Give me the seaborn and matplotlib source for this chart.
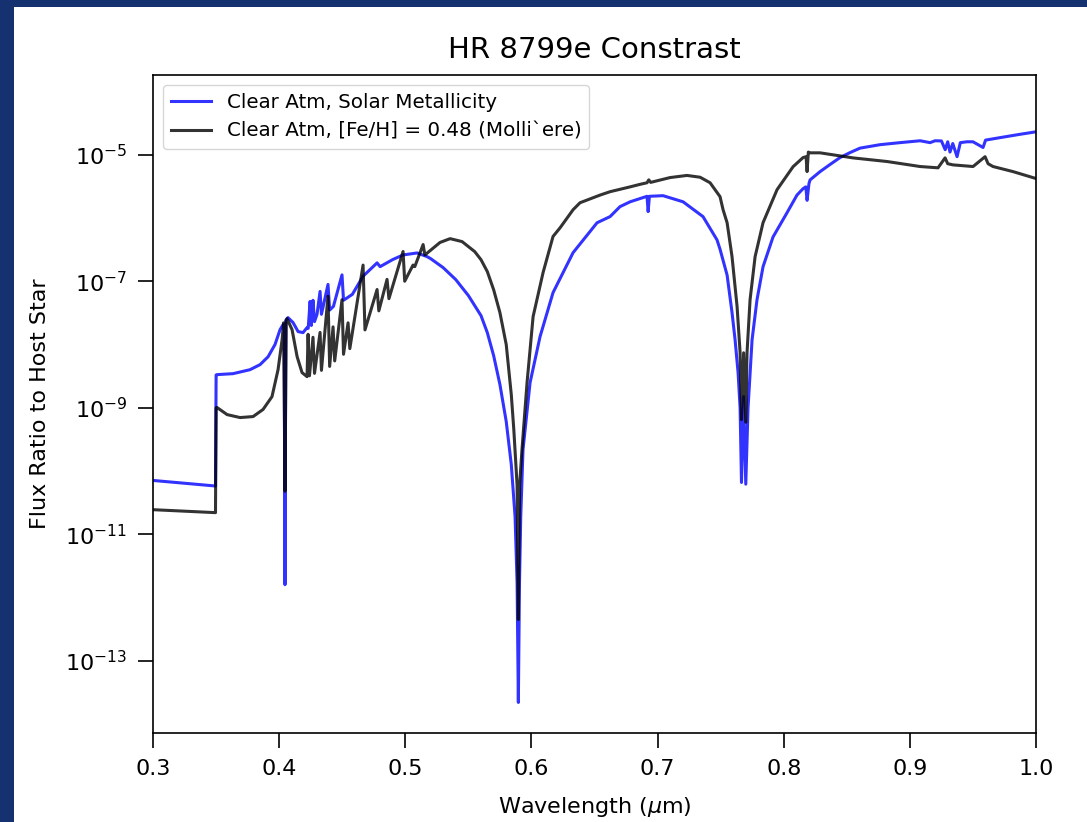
import numpy as np
import pandas as pd
import matplotlib
matplotlib.use("Agg")
import matplotlib.pyplot as plt
import seaborn as sns
from matplotlib.patches import Rectangle
from matplotlib.ticker import NullLocator

# Clear atmosphere, solar metallicity
wl_solar = [0.3000, 0.3495, 0.3500, 0.3507, 0.3634, 0.3769, 0.3848, 0.3912, 0.3967, 0.4007,
            0.4031, 0.4040, 0.4046, 0.4052, 0.4070, 0.4110, 0.4150, 0.4189, 0.4221, 0.4230,
            0.4245, 0.4255, 0.4268, 0.4280, 0.4300, 0.4324, 0.4335, 0.4387, 0.4400, 0.4430,
            0.4498, 0.4510, 0.4580, 0.4665, 0.4776, 0.4800, 0.4900, 0.4982, 0.5093, 0.5172,
            0.5200, 0.5300, 0.5400, 0.5500, 0.5600, 0.5650, 0.5700, 0.5750, 0.5800, 0.5840,
            0.5870, 0.5886, 0.5896, 0.5905, 0.5915, 0.5933, 0.5989, 0.6068, 0.6171, 0.6330,
            0.6520, 0.6623, 0.6702, 0.6782, 0.6916, 0.6925, 0.6935, 0.7043, 0.7202, 0.7360,
            0.7471, 0.7495, 0.7551, 0.7590, 0.7614, 0.7638, 0.7654, 0.7665, 0.7682, 0.7699,
            0.7717, 0.7749, 0.7788, 0.7836, 0.7915, 0.8026, 0.8105, 0.8153, 0.8175, 0.8185,
            0.8200, 0.8209, 0.8288, 0.8367, 0.8446, 0.8526, 0.8605, 0.8764, 0.8922, 0.9081,
            0.9160, 0.9200, 0.9250, 0.9280, 0.9300, 0.9318, 0.9340, 0.9374, 0.9400, 0.9453,
            0.9500, 0.9580, 0.9600, 0.9715, 0.9873, 1.0000]
flux_solar = [7.1e-11, 5.8e-11, 3.3e-9, 3.34e-9, 3.46e-9, 4.0e-9, 4.8e-9, 6.4e-9, 1.0e-8, 1.72e-8,
              2.06e-8, 2.06e-8, 1.6e-12, 2.4e-8, 2.66e-8, 2.22e-8, 1.6e-8, 1.54e-8, 1.85e-8, 1.8e-8,
              4.8e-8, 2.0e-8, 5.0e-8, 2.3e-8, 3.0e-8, 6.9e-8, 3.0e-8, 8.9e-8, 3.5e-8, 4.0e-8,
              1.26e-7, 5.0e-8, 6.2e-8, 1.2e-7, 1.95e-7, 1.7e-7, 2.2e-7, 2.6e-7, 2.8e-7, 2.45e-7,
              2.28e-7, 1.64e-7, 1.06e-7, 5.93e-8, 2.86e-8, 1.54e-8, 6.68e-9, 2.33e-9, 6.05e-10, 1.27e-10,
              1.91e-11, 1.73e-12, 2.2e-14, 1.73e-12, 1.91e-11, 2.19e-10, 2.5e-9, 1.33e-8, 6.61e-8, 2.83e-7,
              8.4e-7, 1.05e-6, 1.51e-6, 1.8e-6, 2.2e-6, 1.26e-6, 2.2e-6, 2.25e-6, 1.8e-6, 1.05e-6,
              4.5e-7, 3.2e-7, 1.25e-7, 3.2e-8, 1.2e-8, 3.6e-9, 1.0e-9, 6.6e-11, 1.5e-9, 6.2e-11,
              1.0e-9, 1.19e-8, 5.1e-8, 1.7e-7, 5.0e-7, 1.21e-6, 2.3e-6, 2.9e-6, 3.1e-6, 1.9e-6,
              3.5e-6, 4.0e-6, 5.4e-6, 7.0e-6, 9.0e-6, 1.08e-5, 1.27e-5, 1.44e-5, 1.55e-5, 1.66e-5,
              1.55e-5, 1.66e-5, 1.65e-5, 1.2e-5, 1.6e-5, 1.1e-5, 1.5e-5, 9.3e-6, 1.55e-5, 1.6e-5,
              1.6e-5, 1.3e-5, 1.7e-5, 1.86e-5, 2.1e-5, 2.3e-5]

# Clear atmosphere, [Fe/H] = 0.48
wl_metal = [0.3000, 0.3495, 0.3500, 0.3507, 0.3587, 0.3690, 0.3793, 0.3872, 0.3943, 0.3991,
            0.4023, 0.4035, 0.4046, 0.4056, 0.4062, 0.4102, 0.4142, 0.4181, 0.4221, 0.4229,
            0.4240, 0.4268, 0.4280, 0.4324, 0.4335, 0.4387, 0.4400, 0.4427, 0.4440, 0.4498,
            0.4510, 0.4546, 0.4560, 0.4665, 0.4680, 0.4776, 0.4790, 0.4855, 0.4870, 0.4982,
            0.4995, 0.5061, 0.5075, 0.5141, 0.5155, 0.5275, 0.5355, 0.5450, 0.5550, 0.5600,
            0.5650, 0.5700, 0.5750, 0.5800, 0.5840, 0.5860, 0.5886, 0.5896, 0.5906, 0.5925,
            0.5965, 0.6013, 0.6092, 0.6171, 0.6227, 0.6330, 0.6385, 0.6544, 0.6623, 0.6782,
            0.6861, 0.6916, 0.6930, 0.6945, 0.7099, 0.7233, 0.7337, 0.7416, 0.7495, 0.7519,
            0.7551, 0.7590, 0.7630, 0.7654, 0.7665, 0.7682, 0.7699, 0.7709, 0.7733, 0.7773,
            0.7836, 0.7947, 0.8074, 0.8153, 0.8177, 0.8185, 0.8195, 0.8209, 0.8288, 0.8549,
            0.8819, 0.9081, 0.9223, 0.9279, 0.9300, 0.9342, 0.9501, 0.9596, 0.9620, 0.9659,
            0.9818, 1.0000]
flux_metal = [2.45e-11, 2.2e-11, 1.0e-9, 1.01e-9, 7.8e-10, 7.0e-10, 7.26e-10, 9.4e-10, 1.5e-9, 4.0e-9,
              1.19e-8, 2.2e-8, 4.8e-11, 2.4e-8, 2.57e-8, 1.72e-8, 6.44e-9, 3.6e-9, 3.1e-9, 1.45e-8,
              3.2e-9, 1.3e-8, 3.5e-9, 1.55e-8, 3.9e-9, 5.8e-8, 4.5e-9, 1.9e-8, 5.5e-9, 5.1e-8,
              7.0e-9, 2.2e-8, 8.6e-9, 1.8e-7, 1.7e-8, 7.4e-8, 3.4e-8, 1.07e-7, 5.3e-8, 2.95e-7,
              1.0e-7, 1.8e-7, 1.7e-7, 3.8e-7, 2.6e-7, 4.1e-7, 4.71e-7, 4.23e-7, 2.94e-7, 2.19e-7,
              1.42e-7, 7.36e-8, 3.19e-8, 9.96e-9, 1.62e-9, 4.53e-10, 6.0e-11, 4.5e-13, 6.0e-11, 2.2e-10,
              2.5e-9, 2.76e-8, 1.37e-7, 5.1e-7, 7.0e-7, 1.35e-6, 1.74e-6, 2.3e-6, 2.6e-6, 3.1e-6,
              3.4e-6, 3.6e-6, 4.0e-6, 3.65e-6, 4.35e-6, 4.7e-6, 4.4e-6, 3.6e-6, 2.17e-6, 1.35e-6,
              8.4e-7, 2.45e-7, 4.0e-8, 7.45e-9, 6.5e-10, 7.4e-9, 5.9e-10, 7.45e-9, 5.1e-8, 2.45e-7,
              8.43e-7, 2.8e-6, 6.46e-6, 9.0e-6, 9.3e-6, 5.4e-6, 1.1e-5, 1.07e-5, 1.07e-5, 8.9e-6,
              7.8e-6, 6.5e-6, 6.2e-6, 8.9e-6, 7.2e-6, 6.9e-6, 6.5e-6, 9.3e-6, 7.2e-6, 6.5e-6,
              5.4e-6, 4.2e-6]

label_solar = "Clear Atm, Solar Metallicity"
label_metal = "Clear Atm, [Fe/H] = 0.48 (Molli`ere)"
y_ticks = [1e-5, 1e-7, 1e-9, 1e-11, 1e-13]

df_solar = pd.DataFrame({"wavelength": wl_solar, "flux": flux_solar})
df_metal = pd.DataFrame({"wavelength": wl_metal, "flux": flux_metal})

fig = plt.figure(figsize=(10.87, 8.22), dpi=100)
fig.patch.set_facecolor("#15316f")
fig.patches.append(Rectangle((0.0129, 0.0), 1.0, 0.9915, transform=fig.transFigure,
                             facecolor="white", edgecolor="none", zorder=-1))
ax = fig.add_axes([0.1408, 0.1083, 0.8123, 0.8005])

sns.lineplot(data=df_solar, x="wavelength", y="flux", ax=ax, color="blue", alpha=0.8,
             lw=2.2, estimator=None, sort=False, label=label_solar)
sns.lineplot(data=df_metal, x="wavelength", y="flux", ax=ax, color="black", alpha=0.8,
             lw=2.2, estimator=None, sort=False, label=label_metal)

ax.set_yscale("log")
ax.set_xlim(0.3, 1.0)
ax.set_ylim(10 ** -14.14, 10 ** -3.74)
ax.set_yticks(y_ticks)
ax.yaxis.set_minor_locator(NullLocator())
ax.tick_params(labelsize=16, length=10.5, width=1.2, pad=8)
for s in ax.spines.values():
    s.set_linewidth(1.2)

ax.set_title("HR 8799e Constrast", fontsize=21, pad=12)
ax.set_xlabel(r"Wavelength ($\mu$m)", fontsize=16, labelpad=12)
ax.set_ylabel("Flux Ratio to Host Star", fontsize=16, labelpad=11)
ax.legend(loc="upper left", fontsize=14.3)

fig.savefig("out.png", dpi=100)
